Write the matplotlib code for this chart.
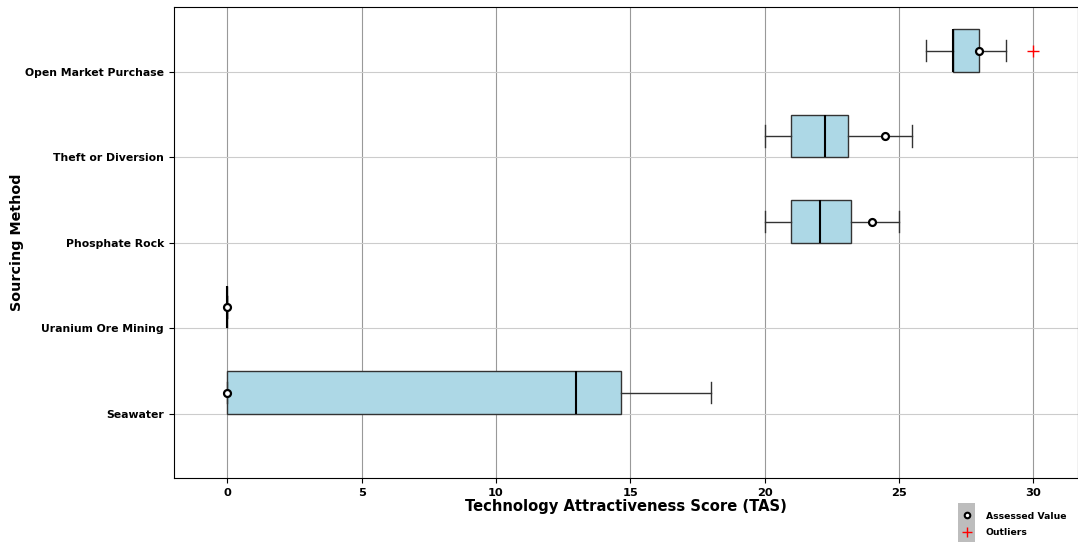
import matplotlib
matplotlib.use('Agg')
import matplotlib.pyplot as plt
from matplotlib.lines import Line2D
from matplotlib.patches import Rectangle

# sourcing methods, bottom to top
methods = ['Seawater', 'Uranium Ore Mining', 'Phosphate Rock',
           'Theft or Diversion', 'Open Market Purchase']

# box statistics per method (TAS)
whisker_lo = [0.0, 0.0, 20.0, 20.0, 26.0]
q1 = [0.0, 0.0, 21.0, 21.0, 27.0]
median = [13.0, 0.0, 22.05, 22.27, 27.0]
q3 = [14.65, 0.0, 23.23, 23.12, 28.0]
whisker_hi = [18.0, 0.0, 25.0, 25.5, 29.0]
outliers = [[], [], [], [], [30.0]]

# assessed TAS value per method
assessed = [0.0, 0.0, 24.0, 24.5, 28.0]

x_ticks = [0, 5, 10, 15, 20, 25, 30]

fig, ax = plt.subplots(figsize=(10.78, 5.42), dpi=100)
fig.subplots_adjust(left=0.161, right=1.0, top=0.987, bottom=0.118)

stats = []
for i in range(len(methods)):
    stats.append({
        'med': median[i], 'q1': q1[i], 'q3': q3[i],
        'whislo': whisker_lo[i], 'whishi': whisker_hi[i],
        'fliers': outliers[i], 'label': methods[i],
    })

ticks = list(range(1, len(methods) + 1))
pos = [t + 0.25 for t in ticks]

ax.bxp(stats, positions=pos, widths=0.5, vert=False, patch_artist=True,
       boxprops=dict(facecolor='lightblue', edgecolor='#333333', linewidth=1.0),
       medianprops=dict(color='black', linewidth=1.5),
       whiskerprops=dict(color='#333333', linewidth=1.0),
       capprops=dict(color='#333333', linewidth=1.0),
       flierprops=dict(marker='+', markeredgecolor='red', markersize=8,
                       linestyle='none'))

ax.plot(assessed, pos, linestyle='none', marker='o', markersize=5,
        markerfacecolor='white', markeredgecolor='black',
        markeredgewidth=1.6, zorder=5)

ax.set_yticks(ticks)
ax.set_yticklabels(methods, fontsize=7.8, fontweight='bold')
ax.set_ylim(0.25, 5.76)
ax.set_xlim(-2, 31.67)
ax.set_xticks(x_ticks)
ax.set_xticklabels([str(v) for v in x_ticks], fontsize=8.2, fontweight='bold')

ax.grid(True, axis='x', color='#999999', linewidth=0.8)
ax.grid(True, axis='y', color='#cccccc', linewidth=0.8)
ax.set_axisbelow(True)

ax.set_xlabel('Technology Attractiveness Score (TAS)', fontsize=10.6,
              fontweight='bold', labelpad=1)
ax.set_ylabel('Sourcing Method', fontsize=10.3, fontweight='bold')
ax.yaxis.set_label_coords(-0.165, 0.5)

# legend below the axes, bottom right
fig.patches.append(Rectangle((0.8885, 0.0), 0.0155, 0.072,
                             transform=fig.transFigure, facecolor='#bdbdbd',
                             edgecolor='none', zorder=0))
handles = [
    Line2D([], [], linestyle='none', marker='o', markersize=4,
           markerfacecolor='white', markeredgecolor='black',
           markeredgewidth=1.5),
    Line2D([], [], linestyle='none', marker='+', markersize=7,
           markeredgecolor='red'),
]
fig.legend(handles, ['Assessed Value', 'Outliers'], loc='lower right',
           bbox_to_anchor=(0.997, -0.007), frameon=False,
           prop={'weight': 'bold', 'size': 6.7}, handlelength=0.8,
           handletextpad=1.6, labelspacing=0.85)

fig.savefig('out.png', dpi=100)
